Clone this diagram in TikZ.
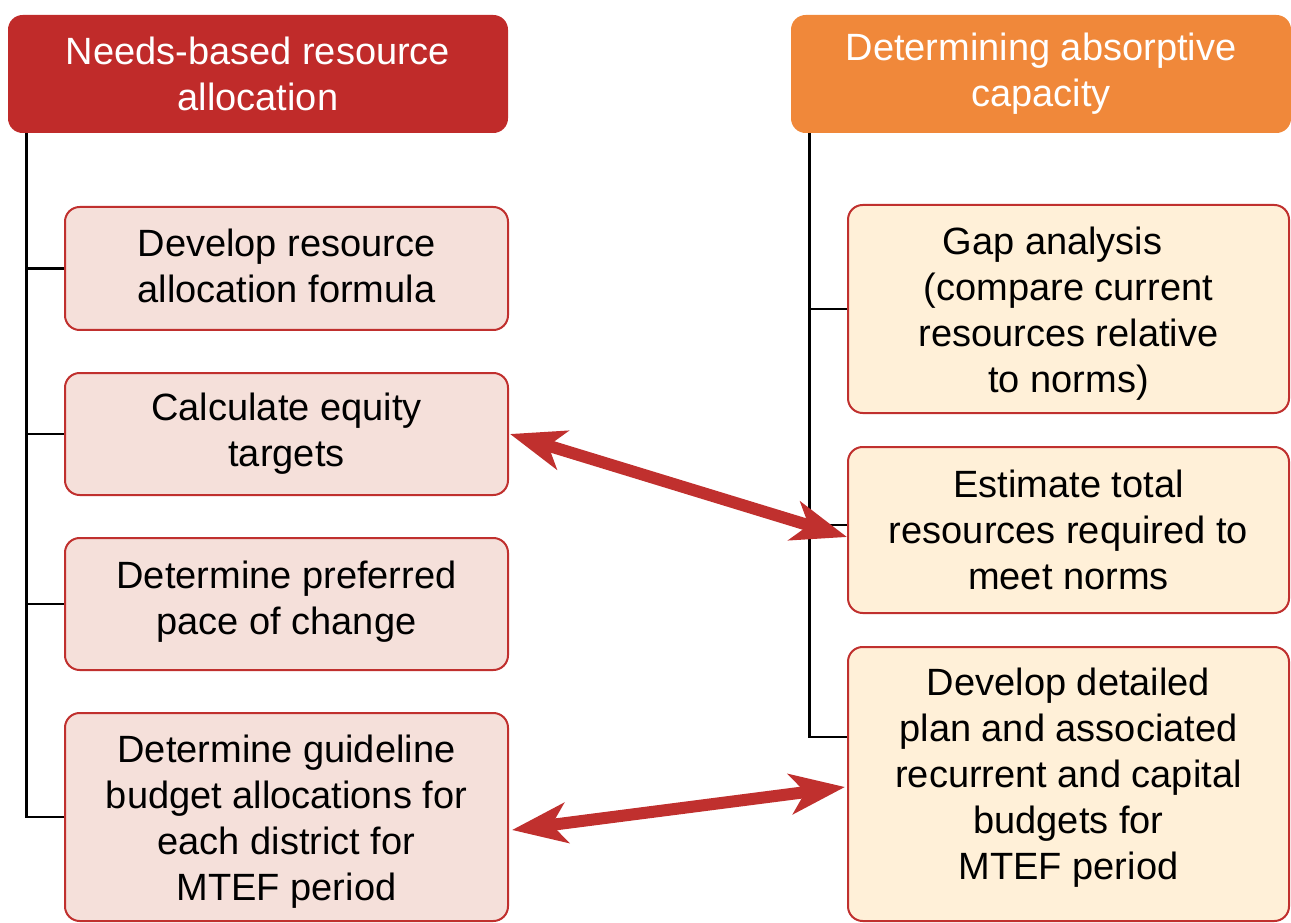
\documentclass[tikz,border=0pt]{standalone}
\usepackage{fontspec}
\setmainfont{Liberation Sans}
\usetikzlibrary{arrows.meta,calc}
\definecolor{hdrred}{HTML}{C02B2A}
\definecolor{hdrorange}{HTML}{F0883A}
\definecolor{boxpink}{HTML}{F5E0DA}
\definecolor{boxcream}{HTML}{FFF0D8}
\definecolor{edgered}{HTML}{C0302E}
% raise a centred block of lines without changing its reported size
\newcommand{\liftby}[2]{\raisebox{#1}[\height][\depth]{\parbox{330pt}{\centering #2}}}
\tikzset{
  header/.style={rounded corners=11pt, text=white, align=center,
    font=\fontsize{28.5}{34.5}\selectfont, inner sep=0pt,
    minimum width=375pt, minimum height=88.5pt},
  taskbox/.style={draw=edgered, line width=1.5pt, rounded corners=11pt,
    align=center, font=\fontsize{28.5}{34.5}\selectfont, inner sep=0pt,
    minimum width=#1},
  tree/.style={draw=black, line width=2pt},
  link/.style={draw=edgered, line width=9pt,
    {Stealth[length=41pt,width=30pt,inset=11pt]}-{Stealth[length=41pt,width=30pt,inset=11pt]}}
}
\begin{document}
\begin{tikzpicture}[x=0.75pt,y=-0.75pt]
\useasboundingbox (0,0) rectangle (1291,923);

% column headers
\node[header, fill=hdrred] (hl) at (258,74) {Needs-based resource\\allocation};
\node[header, fill=hdrorange] (hr) at (1041,74) {Determining absorptive\\capacity};

% left column tasks
\node[taskbox=332.25pt, fill=boxpink, minimum height=92.25pt] (b1) at (286.5,268.5)
  {\liftby{2pt}{Develop resource\\allocation formula}};
\node[taskbox=332.25pt, fill=boxpink, minimum height=91.5pt] (b2) at (286.5,434)
  {Calculate equity\\targets};
\node[taskbox=332.25pt, fill=boxpink, minimum height=99pt] (b3) at (286.5,604)
  {\liftby{1.5pt}{Determine preferred\\pace of change}};
\node[taskbox=332.25pt, fill=boxpink, minimum height=156pt] (b4) at (286.5,817)
  {\liftby{-3.5pt}{Determine guideline\\budget allocations for\\each district for\\MTEF period}};

% right column tasks
\node[taskbox=330.75pt, fill=boxcream, minimum height=156pt] (r1) at (1068.5,309)
  {\liftby{-3.5pt}{Gap analysis\rule{24pt}{0pt}\\(compare current\\resources relative\\to norms)}};
\node[taskbox=330.75pt, fill=boxcream, minimum height=124.5pt] (r2) at (1068.5,530)
  {Estimate total\\resources required to\\meet norms};
\node[taskbox=330.75pt, fill=boxcream, minimum height=205.5pt] (r3) at (1068.5,784)
  {\liftby{4.5pt}{Develop detailed\\plan and associated\\recurrent and capital\\budgets for\\MTEF period}};

% left tree
\coordinate (lt) at ($(hl.south west)+(19,0)$);
\draw[tree] (lt) |- (b4.west);
\draw[tree] (lt |- b1.west) -- (b1.west);
\draw[tree] (lt |- b2.west) -- (b2.west);
\draw[tree] (lt |- b3.west) -- (b3.west);

% right tree
\coordinate (rt) at ($(hr.south west)+(19,0)$);
\coordinate (r3j) at ($(r3.west)+(0,-47)$);
\draw[tree] (rt) |- (r3j);
\draw[tree] (rt |- r1.west) -- (r1.west);
\draw[tree] ($(rt |- r2.west)+(0,-5)$) -- ($(r2.west)+(0,-5)$);

% cross links
\draw[link] ($(b2.east)+(1,0)$) -- ($(r2.west)+(0,7)$);
\draw[link] ($(b4.east)+(3,13)$) -- ($(r3.west)+(-2,3)$);
\end{tikzpicture}
\end{document}
